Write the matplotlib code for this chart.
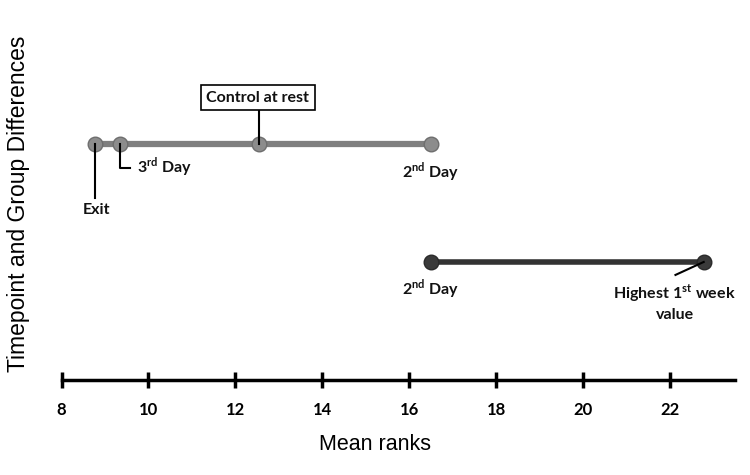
import matplotlib.pyplot as plt

# Mean ranks
top_ranks = [8.77, 9.34, 12.54, 16.5]      # Exit, 3rd Day, Control at rest, 2nd Day
bottom_ranks = [16.5, 22.78]               # 2nd Day, Highest 1st week value
top_y = 2
bottom_y = 1
xticks = [8, 10, 12, 14, 16, 18, 20, 22]

plt.rcParams['mathtext.fontset'] = 'custom'
plt.rcParams['mathtext.bf'] = 'Lato:bold'
plt.rcParams['mathtext.rm'] = 'Lato:bold'

fig = plt.figure(figsize=(7.5, 4.75), dpi=100)
ax = fig.add_axes([0.082, 0.2, 0.898, 0.758])

ax.plot(top_ranks, [top_y] * len(top_ranks), color='#7f7f7f', lw=4.5,
        marker='o', markersize=10.5, markerfacecolor='#8c8c8c',
        markeredgecolor='#6e6e6e', solid_capstyle='round')
ax.plot(bottom_ranks, [bottom_y] * len(bottom_ranks), color='#333333', lw=4,
        marker='o', markersize=10.5, markerfacecolor='#3a3a3a',
        markeredgecolor='#2a2a2a')

ax.set_xlim(8, 23.5)
ax.set_ylim(0, 3.05)
ax.set_xticks(xticks)
ax.set_yticks([])
for s in ['top', 'right', 'left']:
    ax.spines[s].set_visible(False)
ax.spines['bottom'].set_linewidth(2.5)
ax.tick_params(axis='x', direction='inout', length=11, width=2.5, pad=10)
for lab in ax.get_xticklabels():
    lab.set_fontfamily('Lato')
    lab.set_fontweight('bold')
    lab.set_fontsize(12)

ax.set_xlabel('Mean ranks', fontsize=15.5, fontfamily='Liberation Sans')
ax.xaxis.set_label_coords((375 - 61.5) / (735 - 61.5), -0.15)
ax.set_ylabel('Timepoint and Group Differences', fontsize=16.5, fontfamily='Liberation Sans')
ax.yaxis.set_label_coords((30 - 61.5) / (735 - 61.5), 0.49)

tkw = dict(fontfamily='Lato', fontweight='bold', fontsize=11.5, color='#111111')

# top row labels
ax.plot([top_ranks[0], top_ranks[0]], [top_y, 1.54], color='black', lw=1.5)
ax.text(8.81, 1.44, 'Exit', ha='center', va='center', **tkw)
ax.plot([top_ranks[1], top_ranks[1], 9.57], [top_y, 1.80, 1.80], color='black', lw=1.5)
ax.text(9.74, 1.80, '3$^{\\mathbf{rd}}$ Day', ha='left', va='center', **tkw)
ax.plot([top_ranks[2], top_ranks[2]], [top_y, 2.3], color='black', lw=1.5)
ax.text(12.52, 2.39, 'Control at rest', ha='center', va='center',
        bbox=dict(boxstyle='square,pad=0.35', fc='white', ec='black', lw=1.2), **tkw)
ax.text(16.5, 1.76, '2$^{\\mathbf{nd}}$ Day', ha='center', va='center', **tkw)

# bottom row labels
ax.text(16.5, 0.77, '2$^{\\mathbf{nd}}$ Day', ha='center', va='center', **tkw)
ax.plot([bottom_ranks[1], 22.13], [bottom_y, 0.89], color='black', lw=1.5)
ax.text(22.11, 0.66, 'Highest 1$^{\\mathbf{st}}$ week\nvalue', ha='center', va='center',
        linespacing=1.3, **tkw)

fig.savefig('out.png', dpi=100)
